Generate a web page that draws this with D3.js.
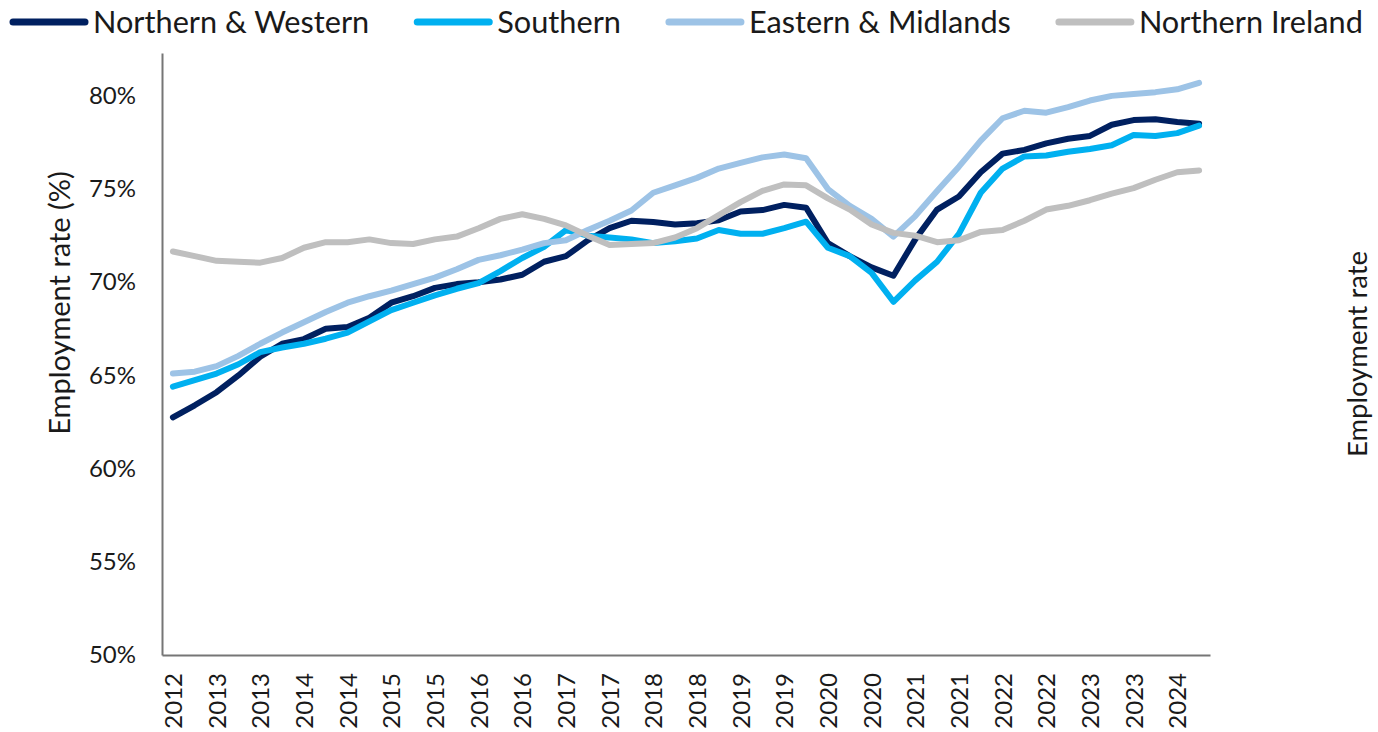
<!DOCTYPE html>
<html>
<head>
<meta charset="utf-8">
<script src="https://cdn.jsdelivr.net/npm/d3@7"></script>
<style>
  body { margin: 0; background: #fff; }
  text { font-family: Lato, "Open Sans", sans-serif; fill: #1a1a1a; }
</style>
</head>
<body>
<div id="chart"></div>
<script>
// quarterly categories, a year label on every second one
const quarters = [
  "Q4 2012",
  "Q1 2013","Q2 2013","Q3 2013","Q4 2013",
  "Q1 2014","Q2 2014","Q3 2014","Q4 2014",
  "Q1 2015","Q2 2015","Q3 2015","Q4 2015",
  "Q1 2016","Q2 2016","Q3 2016","Q4 2016",
  "Q1 2017","Q2 2017","Q3 2017","Q4 2017",
  "Q1 2018","Q2 2018","Q3 2018","Q4 2018",
  "Q1 2019","Q2 2019","Q3 2019","Q4 2019",
  "Q1 2020","Q2 2020","Q3 2020","Q4 2020",
  "Q1 2021","Q2 2021","Q3 2021","Q4 2021",
  "Q1 2022","Q2 2022","Q3 2022","Q4 2022",
  "Q1 2023","Q2 2023","Q3 2023","Q4 2023",
  "Q1 2024","Q2 2024","Q3 2024"
]
const yTicks = [50, 55, 60, 65, 70, 75, 80]

const seriesNames = ["Northern & Western", "Southern", "Eastern & Midlands", "Northern Ireland"]
const seriesColors = ["#002060", "#00B0F0", "#9DC3E6", "#BFBFBF"]

// employment rate, %
const northernWestern = [62.75,63.4,64.1,65.0,66.0,66.7,66.95,67.5,67.6,68.1,68.9,69.25,69.7,69.9,70.0,70.15,
  70.4,71.1,71.4,72.25,72.9,73.3,73.23,73.1,73.17,73.33,73.8,73.87,74.15,74.0,72.1,71.4,
  70.8,70.35,72.3,73.9,74.6,75.9,76.9,77.1,77.45,77.7,77.85,78.45,78.7,78.75,78.6,78.5]
const southern = [64.4,64.75,65.1,65.6,66.25,66.5,66.7,66.97,67.3,67.9,68.5,68.9,69.3,69.65,69.95,70.6,
  71.3,71.9,72.8,72.5,72.4,72.3,72.1,72.2,72.35,72.8,72.6,72.6,72.9,73.25,71.85,71.4,
  70.5,68.95,70.1,71.1,72.6,74.8,76.1,76.75,76.8,77.0,77.15,77.35,77.9,77.85,78.0,78.4]
const easternMidlands = [65.1,65.2,65.5,66.05,66.7,67.3,67.85,68.4,68.9,69.25,69.55,69.9,70.25,70.7,71.2,71.45,
  71.75,72.1,72.25,72.8,73.3,73.85,74.8,75.2,75.6,76.1,76.4,76.7,76.85,76.65,75.0,74.1,
  73.4,72.45,73.55,74.9,76.2,77.6,78.8,79.2,79.1,79.4,79.75,80.0,80.1,80.2,80.35,80.7]
const northernIreland = [71.65,71.4,71.15,71.1,71.05,71.3,71.85,72.15,72.15,72.3,72.1,72.05,72.3,72.45,72.9,73.4,
  73.65,73.4,73.05,72.5,72.0,72.05,72.1,72.4,72.9,73.6,74.3,74.9,75.25,75.2,74.5,73.9,
  73.1,72.65,72.5,72.15,72.25,72.7,72.8,73.3,73.9,74.1,74.4,74.75,75.05,75.5,75.9,76.0]

const allSeries = [northernWestern, southern, easternMidlands, northernIreland]

const width = 1378, height = 732
const svg = d3.select("#chart").append("svg").attr("width", width).attr("height", height)

const x = d3.scalePoint().domain(quarters).range([162, 1210]).padding(0.5)
const y = d3.scaleLinear().domain([50, 82.3]).range([655, 53])

// y axis
const yAxis = svg.append("g").attr("transform", "translate(162,0)")
  .call(d3.axisLeft(y).tickValues(yTicks).tickSize(0).tickSizeOuter(0).tickPadding(26)
    .tickFormat(d => d + "%"))
yAxis.select(".domain").attr("stroke", "#767676").attr("stroke-width", 2)
yAxis.selectAll("text").style("font-size", "24px").style("font-family", "Lato").attr("fill", "#1a1a1a")

// x axis
const xAxis = svg.append("g").attr("transform", "translate(0,655)")
  .call(d3.axisBottom(x).tickValues(quarters.filter((d, i) => i % 2 === 0))
    .tickSize(0).tickSizeOuter(0).tickFormat(d => d.slice(3)))
xAxis.select(".domain").attr("stroke", "#767676").attr("stroke-width", 2)
xAxis.selectAll("text")
  .attr("transform", "rotate(-90)")
  .attr("x", -18).attr("y", 0).attr("dy", "0.36em")
  .style("text-anchor", "end").style("font-size", "24px").style("font-family", "Lato")
  .attr("fill", "#1a1a1a")

// lines
const line = d3.line().x((d, i) => x(quarters[i])).y(d => y(d))
svg.append("g").selectAll("path").data(allSeries).join("path")
  .attr("d", line)
  .attr("fill", "none")
  .attr("stroke", (d, i) => seriesColors[i])
  .attr("stroke-width", 6)
  .attr("stroke-linejoin", "round")
  .attr("stroke-linecap", "round")

// axis titles
svg.append("text").attr("transform", "translate(60,303) rotate(-90)")
  .attr("text-anchor", "middle").attr("dy", "0.35em")
  .style("font-size", "29px").text("Employment rate (%)")
svg.append("text").attr("transform", "translate(1357,354) rotate(-90)")
  .attr("text-anchor", "middle").attr("dy", "0.35em")
  .style("font-size", "27.5px").text("Employment rate")

// legend
const legend = svg.append("g")
let lx = 10
seriesNames.forEach((name, i) => {
  legend.append("line").attr("x1", lx + 3).attr("x2", lx + 75).attr("y1", 22).attr("y2", 22)
    .attr("stroke", seriesColors[i]).attr("stroke-width", 7).attr("stroke-linecap", "round")
  const t = legend.append("text").attr("x", lx + 83).attr("y", 22).attr("dy", "0.35em")
    .style("font-size", "30.7px").text(name)
  lx += 83 + t.node().getComputedTextLength() + 45
})
</script>
</body>
</html>
